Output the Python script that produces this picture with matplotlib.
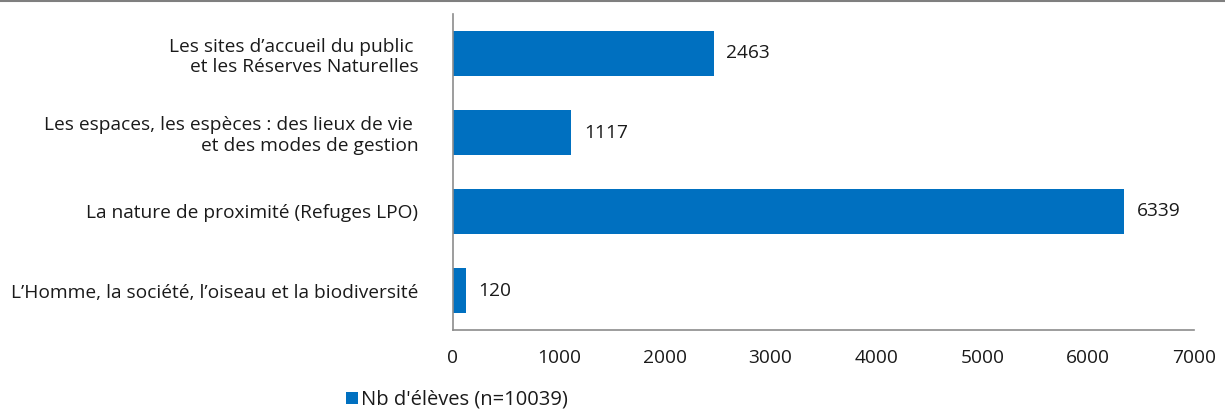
import matplotlib
matplotlib.use("Agg")
import matplotlib.pyplot as plt
from matplotlib.lines import Line2D
from matplotlib.patches import Patch

plt.rcParams['font.family'] = ['Open Sans', 'DejaVu Sans']

categories = [
    "Les sites d\u2019accueil du public \net les Réserves Naturelles",
    "Les espaces, les espèces : des lieux de vie \net des modes de gestion",
    "La nature de proximité (Refuges LPO)",
    "L\u2019Homme, la société, l\u2019oiseau et la biodiversité",
]
values = [2463, 1117, 6339, 120]
series_name = "Nb d'élèves (n=10039)"
xticks = [0, 1000, 2000, 3000, 4000, 5000, 6000, 7000]

bar_color = "#0070C0"
text_color = "#1a1a1a"
axis_color = "#8c8c8c"
fs = 13.8

fig = plt.figure(figsize=(12.25, 4.12), dpi=100)
ax = fig.add_axes([453/1225, (412-330)/412, (1194-453)/1225, (330-14)/412])

ypos = list(range(len(categories)))
ax.barh(ypos, values, height=0.57, color=bar_color)
ax.set_ylim(len(categories) - 0.5, -0.5)
ax.set_xlim(0, 7000)
ax.set_xticks(xticks)
ax.set_xticklabels([str(t) for t in xticks], fontsize=fs, color=text_color)
ax.set_yticks(ypos)
ax.set_yticklabels(categories, fontsize=fs, color=text_color, linespacing=1.2)
ax.tick_params(axis='both', length=0)
ax.tick_params(axis='x', pad=14)
ax.tick_params(axis='y', pad=25)
for s in ['top', 'right']:
    ax.spines[s].set_visible(False)
for s in ['left', 'bottom']:
    ax.spines[s].set_color(axis_color)
    ax.spines[s].set_linewidth(1.2)

for y, v in zip(ypos, values):
    ax.annotate(str(v), xy=(v, y), xytext=(9, 0), textcoords='offset points',
                va='center', ha='left', fontsize=fs, color=text_color)

fig.add_artist(Line2D([0, 1], [0.998, 0.998], transform=fig.transFigure,
                      color="#7f7f7f", linewidth=1.5))

handle = Patch(facecolor=bar_color, edgecolor='none')
fig.legend([handle], [series_name], loc='center left',
           bbox_to_anchor=(338/1225, 1 - 400/412), frameon=False,
           fontsize=14.5, handlelength=0.6, handleheight=0.6, handletextpad=0.15,
           labelcolor=text_color, borderaxespad=0)

fig.savefig("out.png", dpi=100)
